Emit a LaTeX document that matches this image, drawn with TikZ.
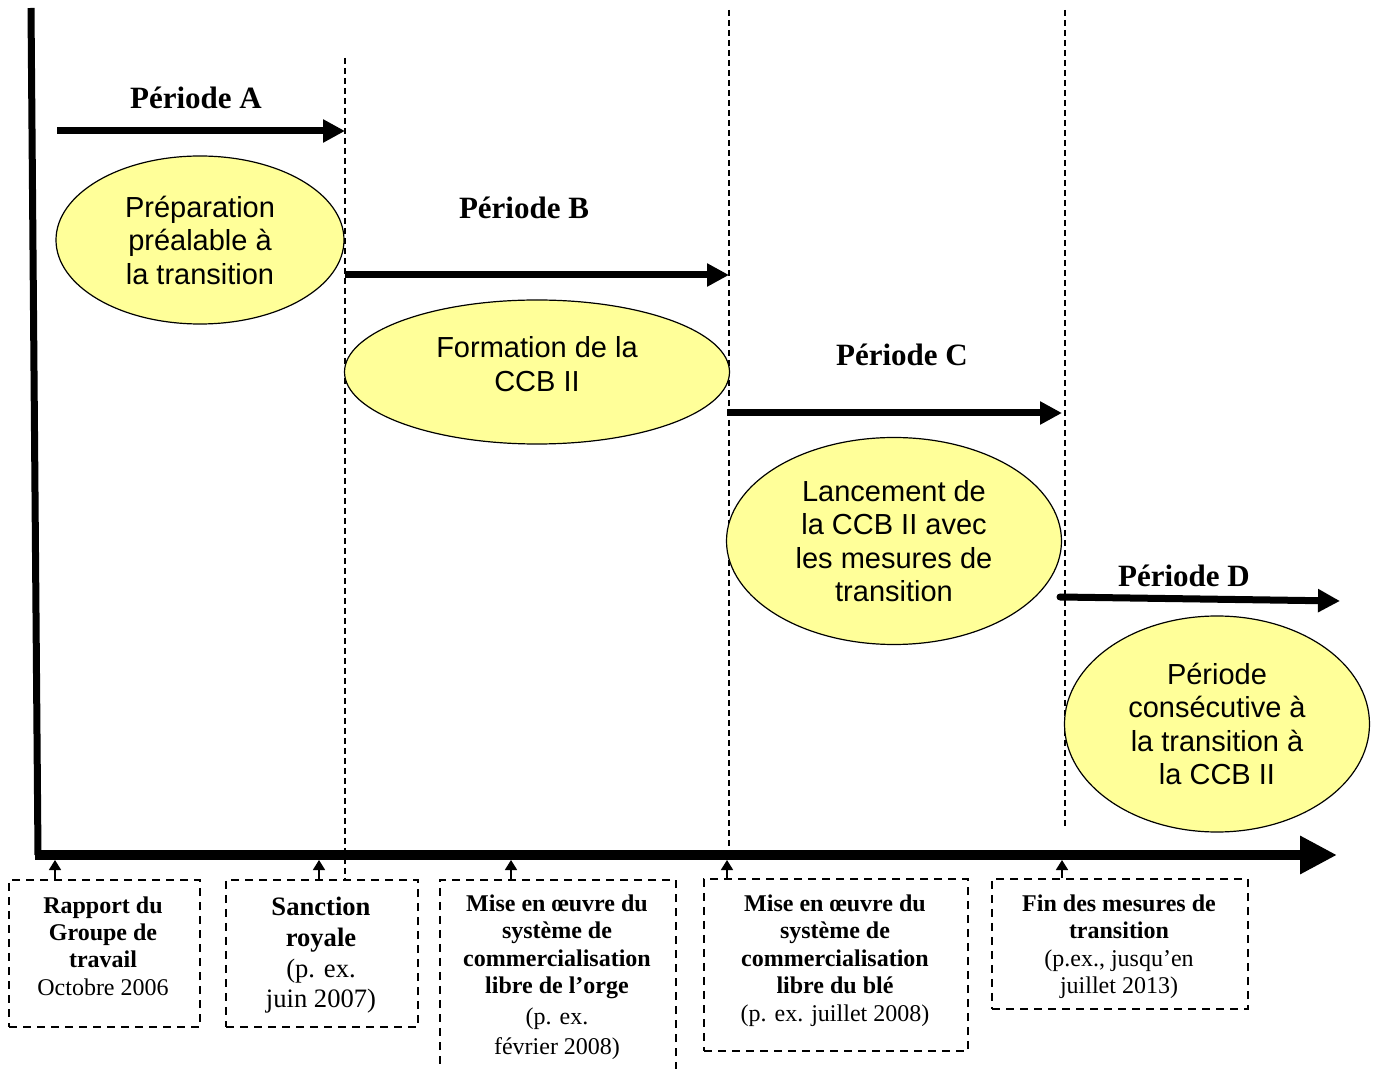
\documentclass[tikz,border=0pt]{standalone}
\usepackage{fontspec}
\setmainfont{Liberation Serif}
\newfontfamily\arialfont{Liberation Sans}
\usetikzlibrary{arrows.meta,shapes.geometric}
\definecolor{stageyellow}{HTML}{FFFF99}

\tikzset{
  stage/.style={ellipse, draw=black, line width=0.6pt, fill=stageyellow, inner sep=0pt,
    align=center, font=\arialfont\fontsize{14.5}{16.75}\selectfont},
  period/.style={line width=3.5pt, -{Triangle[length=11pt,width=11pt]}},
  plabel/.style={font=\fontsize{15.5}{18}\selectfont\bfseries, anchor=base, inner sep=0pt},
  guide/.style={line width=0.7pt, dash pattern=on 3pt off 2pt},
  frame/.style={draw, line width=1pt, dash pattern=on 4pt off 3pt, anchor=north west, inner sep=0pt},
  event/.style={align=center, anchor=north, inner sep=0pt, font=\fontsize{12}{13.7}\selectfont},
  tick/.style={line width=0.8pt, -{Triangle[length=5pt,width=6pt]}}
}

\begin{document}
\begin{tikzpicture}[x=0.5pt, y=-0.5pt]
    \useasboundingbox (0,0) rectangle (1378,1069);

      % Guides
      \coordinate (v1) at (345,58);
      \coordinate (v2) at (729,10);
      \coordinate (v3) at (1065,10);
      \draw[guide] (v1) -- (345,879);
      \draw[guide] (v2) -- (729,852);
      \draw[guide] (v3) -- (1065,828);

      % Axes
      \coordinate (o) at (38,855);
      \coordinate (top) at (31,8);
      \coordinate (end) at (1337,855);
      \draw[line width=3.5pt] (top) -- (o);
      \draw[line width=5pt, -{Triangle[length=18.5pt,width=18pt]}] (35,855) -- (end);

      % Period A
      \coordinate (pa) at (57,131);
      \draw[period] (pa) -- (pa -| v1);
      \node[plabel] (la) at (196,109) {Période A};
      \node[stage, minimum width=144pt, minimum height=84pt] (sa) at (200,240)
        {Préparation\\préalable à\\la transition};

      % Period B
      \coordinate (pb) at (345,275);
      \draw[period] (pb) -- (pb -| v2);
      \node[plabel] (lb) at (524,219) {Période B};
      \node[stage, text depth=8pt, minimum width=192.5pt, minimum height=72pt] (sb) at (537,372)
        {Formation de la\\CCB II};

      % Period C
      \coordinate (pc) at (727,413);
      \draw[period] (pc) -- (1062,413);
      \node[plabel] (lc) at (902,366) {Période C};
      \node[stage, minimum width=167.5pt, minimum height=103.5pt] (sc) at (894,541)
        {Lancement de\\la CCB II avec\\les mesures de\\transition};

      % Period D
      \coordinate (pd) at (1060,597);
      \draw[period, line cap=round] (pd) -- (1340,601);
      \node[plabel] (ld) at (1184,587) {Période D};
      \node[stage, minimum width=152.5pt, minimum height=108pt] (sd) at (1217,724)
        {Période\\consécutive à\\la transition à\\la CCB II};

      % Events
      \node[frame, minimum width=95.5pt, minimum height=73.5pt] (f1) at (8,879) {};
      \node[event] (e1) at (103,896)
        {\textbf{Rapport du}\\\textbf{Groupe de}\\\textbf{travail}\\Octobre 2006};

      \node[frame, minimum width=96pt, minimum height=73.5pt] (f2) at (225,879) {};
      \node[event, font=\fontsize{13.3}{15.35}\selectfont] (e2) at (321,897)
        {\textbf{Sanction}\\\textbf{royale}\\(p. ex.\\juin 2007)};

      \node[frame, minimum width=118pt, minimum height=103pt] (f3) at (439,879) {};
      \node[event] (e3) at (557,894.5)
        {\textbf{Mise en œuvre du}\\\textbf{système de}\\\textbf{commercialisation}\\\textbf{libre de l’orge}\\[1.5pt](p. ex.\\[1.5pt]février 2008)};

      \node[frame, minimum width=132pt, minimum height=86pt] (f4) at (703,878) {};
      \node[event] (e4) at (835,894.5)
        {\textbf{Mise en œuvre du}\\\textbf{système de}\\\textbf{commercialisation}\\\textbf{libre du blé}\\(p. ex. juillet 2008)};

      \node[frame, minimum width=128pt, minimum height=65pt] (f5) at (991,878) {};
      \node[event] (e5) at (1119,894.5)
        {\textbf{Fin des mesures de}\\\textbf{transition}\\(p.ex., jusqu’en\\juillet 2013)};

      % Ticks
      \coordinate (m1) at (55,860);
      \coordinate (m2) at (319,860);
      \coordinate (m3) at (511,860);
      \coordinate (m4) at (727,860);
      \coordinate (m5) at (1062,860);
      \draw[tick] (m1 |- f1.north) -- (m1);
      \draw[tick] (m2 |- f2.north) -- (m2);
      \draw[tick] (m3 |- f3.north) -- (m3);
      \draw[tick] (m4 |- f4.north) -- (m4);
      \draw[tick] (m5 |- f5.north) -- (m5);

\end{tikzpicture}
\end{document}
